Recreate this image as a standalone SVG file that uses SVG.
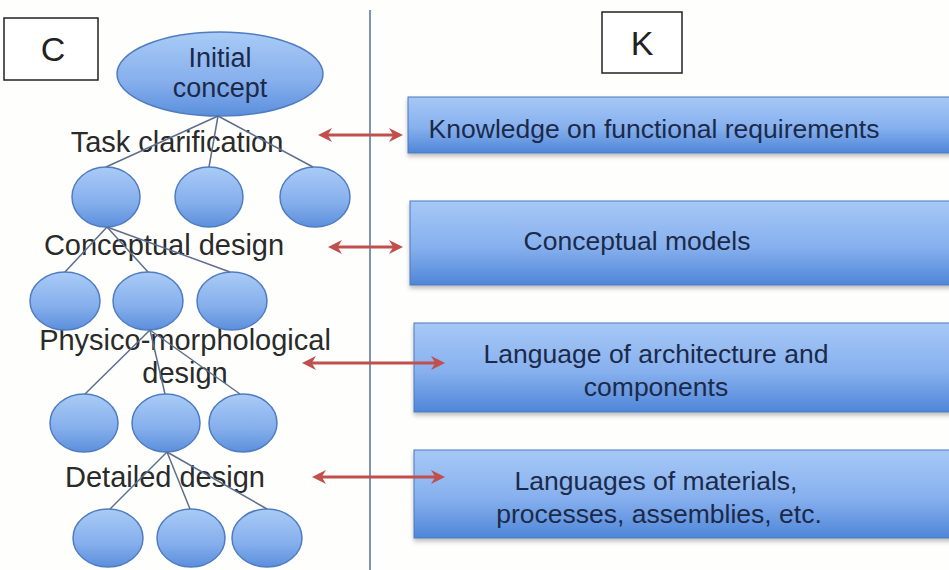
<svg xmlns="http://www.w3.org/2000/svg" width="949" height="570" viewBox="0 0 949 570">
  <defs>
    <linearGradient id="gBox" x1="0" y1="0" x2="0" y2="1">
      <stop offset="0" stop-color="#a6c8f6"/>
      <stop offset="0.55" stop-color="#86b0ee"/>
      <stop offset="1" stop-color="#4f86d8"/>
    </linearGradient>
    <linearGradient id="gNode" x1="0" y1="0" x2="0" y2="1">
      <stop offset="0" stop-color="#a9cbf6"/>
      <stop offset="0.6" stop-color="#85aeec"/>
      <stop offset="1" stop-color="#5b8fdc"/>
    </linearGradient>
    <filter id="shadow" x="-5%" y="-10%" width="110%" height="130%">
      <feDropShadow dx="0" dy="3" stdDeviation="2" flood-color="#000" flood-opacity="0.25"/>
    </filter>
    <marker id="head" viewBox="0 0 10 10" refX="5.7" refY="5" markerWidth="14" markerHeight="14" markerUnits="userSpaceOnUse" orient="auto-start-reverse">
      <path d="M0,0 L10,5 L0,10 L3,5 z" fill="#c0504d"/>
    </marker>
  </defs>
  <style>
    .frame { fill: #ffffff; stroke: #222; stroke-width: 1.5; }
    .letter { font-family: "Liberation Sans", Arial, sans-serif; font-size: 34px; fill: #222; text-anchor: middle; }
    .node { fill: url(#gNode); stroke: #4f7cc0; stroke-width: 1.5; }
    .box { fill: url(#gBox); stroke: #4a78c0; stroke-width: 1; filter: url(#shadow); }
    .boxtxt { font-family: "Liberation Sans", Arial, sans-serif; font-size: 26.5px; fill: #1c2a4a; text-anchor: middle; }
    .nodetxt { font-family: "Liberation Sans", Arial, sans-serif; font-size: 27px; fill: #1c2a4a; text-anchor: middle; }
    .label { font-family: "Liberation Sans", Arial, sans-serif; font-size: 29px; fill: #2a2a2a; text-anchor: middle; }
    .edge { stroke: #5d6f8c; stroke-width: 1.5; fill: none; }
    .arrow { stroke: #c0504d; stroke-width: 3; fill: none; marker-start: url(#head); marker-end: url(#head); }
    .divider { stroke: #7d93b4; stroke-width: 2; }
  </style>
  <rect width="949" height="570" fill="#fefefd"/>

  <line class="divider" x1="370" y1="10" x2="370" y2="570"/>

  <g id="frame-C">
    <rect class="frame" x="4" y="18" width="94" height="62"/>
    <text class="letter" x="53" y="61">C</text>
  </g>
  <g id="frame-K">
    <rect class="frame" x="602" y="12" width="80" height="61"/>
    <text class="letter" x="642" y="55">K</text>
  </g>

  <g id="labels">
    <text class="label" x="177" y="152">Task clarification</text>
    <text class="label" x="164" y="255">Conceptual design</text>
    <text class="label" x="185" y="350">Physico-morphological</text>
    <text class="label" x="185" y="383">design</text>
    <text class="label" x="165" y="487">Detailed design</text>
  </g>

  <g id="node-initial">
    <ellipse class="node" cx="220" cy="74" rx="103" ry="42"/>
    <text class="nodetxt" x="220" y="67">Initial</text>
    <text class="nodetxt" x="220" y="97">concept</text>
  </g>
  <g id="node-r1c1"><ellipse class="node" cx="106" cy="197" rx="34" ry="30"/></g>
  <g id="node-r1c2"><ellipse class="node" cx="209" cy="197" rx="34" ry="30"/></g>
  <g id="node-r1c3"><ellipse class="node" cx="315" cy="197" rx="35" ry="30"/></g>
  <g id="node-r2c1"><ellipse class="node" cx="65" cy="301" rx="35" ry="29"/></g>
  <g id="node-r2c2"><ellipse class="node" cx="148" cy="301" rx="35" ry="29"/></g>
  <g id="node-r2c3"><ellipse class="node" cx="232" cy="301" rx="35" ry="29"/></g>
  <g id="node-r3c1"><ellipse class="node" cx="84" cy="423" rx="34" ry="29"/></g>
  <g id="node-r3c2"><ellipse class="node" cx="166" cy="423" rx="34" ry="29"/></g>
  <g id="node-r3c3"><ellipse class="node" cx="243" cy="423" rx="34" ry="29"/></g>
  <g id="node-r4c1"><ellipse class="node" cx="108" cy="538" rx="35" ry="29"/></g>
  <g id="node-r4c2"><ellipse class="node" cx="191" cy="538" rx="34" ry="29"/></g>
  <g id="node-r4c3"><ellipse class="node" cx="267" cy="538" rx="35" ry="29"/></g>

  <g id="box-functional">
    <rect class="box" x="408" y="97" width="560" height="56"/>
    <text class="boxtxt" x="654" y="138">Knowledge on functional requirements</text>
  </g>
  <g id="box-conceptual">
    <rect class="box" x="410" y="201" width="560" height="84"/>
    <text class="boxtxt" x="637" y="250">Conceptual models</text>
  </g>
  <g id="box-architecture">
    <rect class="box" x="414" y="323" width="560" height="89"/>
    <text class="boxtxt" x="656" y="363">Language of architecture and</text>
    <text class="boxtxt" x="656" y="396">components</text>
  </g>
  <g id="box-materials">
    <rect class="box" x="414" y="450" width="560" height="88"/>
    <text class="boxtxt" x="656" y="490">Languages of materials,</text>
    <text class="boxtxt" x="659" y="523">processes, assemblies, etc.</text>
  </g>

  <g id="connectors">
    <line class="edge" x1="218" y1="116" x2="106" y2="167"/>
    <line class="edge" x1="218" y1="116" x2="209" y2="167"/>
    <line class="edge" x1="218" y1="116" x2="313" y2="167"/>
    <line class="edge" x1="107" y1="227" x2="65" y2="272"/>
    <line class="edge" x1="107" y1="227" x2="148" y2="272"/>
    <line class="edge" x1="107" y1="227" x2="230" y2="272"/>
    <line class="edge" x1="150" y1="330" x2="85" y2="394"/>
    <line class="edge" x1="150" y1="330" x2="165" y2="394"/>
    <line class="edge" x1="150" y1="330" x2="240" y2="394"/>
    <line class="edge" x1="167" y1="452" x2="110" y2="509"/>
    <line class="edge" x1="167" y1="452" x2="190" y2="509"/>
    <line class="edge" x1="167" y1="452" x2="267" y2="509"/>
    <line class="arrow" x1="324" y1="135" x2="397" y2="135"/>
    <line class="arrow" x1="334" y1="247" x2="397" y2="247"/>
    <line class="arrow" x1="308" y1="363" x2="439" y2="363"/>
    <line class="arrow" x1="318" y1="477" x2="439" y2="477"/>
  </g>
</svg>
